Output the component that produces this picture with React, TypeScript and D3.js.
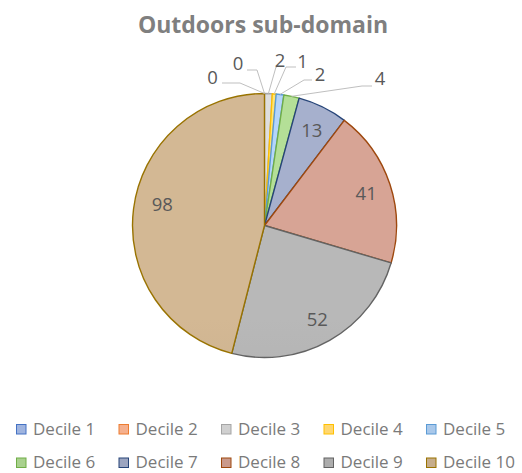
import React from "react";
import * as d3 from "d3";

const categories = ["Decile 1", "Decile 2", "Decile 3", "Decile 4", "Decile 5", "Decile 6", "Decile 7", "Decile 8", "Decile 9", "Decile 10"];
const values = [0, 0, 2, 1, 2, 4, 13, 41, 52, 98];
const strokeColors = ["#4472C4", "#ED7D31", "#A5A5A5", "#FFC000", "#5B9BD5", "#70AD47", "#264478", "#9E480E", "#636363", "#997300"];
const fillColors = ["#9fb4df", "#f5b08e", "#d0d0d0", "#ffd770", "#a9c8ea", "#a9d18e", "#9ca5c0", "#ca9a8c", "#adadad", "#c6ad8b"];
const title = "Outdoors sub-domain";

// layout for small (outside) labels: text centre and elbow of the leader line
const outsideLayout: Record<number, { tx: number; ty: number; sx: number; ex: number; ey: number }> = {
  0: { tx: 212.5, ty: 76.5, sx: 222, ex: 240, ey: 83 },
  1: { tx: 238, ty: 62.5, sx: 247, ex: 257, ey: 70 },
  2: { tx: 280, ty: 59, sx: 277, ex: 276, ey: 67 },
  3: { tx: 302.5, ty: 60, sx: 296, ex: 286, ey: 67 },
  4: { tx: 320, ty: 73, sx: 312, ex: 304, ey: 80 },
  5: { tx: 380, ty: 77.5, sx: 372, ex: 362, ey: 86 },
};
const insideNudge: Record<number, [number, number]> = { 9: [4, -9] };

const W = 522, H = 473;
const cx = 264.5, cy = 225.5, R = 132;
const font = "'Open Sans', sans-serif";

export default function App() {
  const pie = d3.pie<number>().sort(null).value((d) => d)(values);
  const arc = d3.arc<d3.PieArcDatum<number>>().innerRadius(0).outerRadius(R);
  const labelArc = d3.arc<d3.PieArcDatum<number>>().innerRadius(107).outerRadius(107);

  const legendX = d3.scaleLinear().domain([0, 4]).range([16, 426]);
  const legendY = [424, 457.5];

  return (
    <svg width={W} height={H} style={{ position: "absolute", left: 0, top: 0, background: "#fff" }}>
      <defs>
        {fillColors.map((c, i) => (
          <linearGradient key={i} id={"g" + i} gradientUnits="userSpaceOnUse" x1={0} y1={cy - R} x2={0} y2={cy + R}>
            <stop offset="0" stopColor={d3.rgb(c).brighter(0.18).formatHex()} />
            <stop offset="1" stopColor={d3.rgb(c).darker(0.12).formatHex()} />
          </linearGradient>
        ))}
      </defs>
      <text x={263} y={33} textAnchor="middle" fontFamily={font} fontWeight={700} fontSize={23} fill="#7f7f7f">
        {title}
      </text>
      <g transform={`translate(${cx},${cy})`}>
        {pie.map((p, i) =>
          p.value > 0 ? (
            <path key={i} d={arc(p) || ""} fill={`url(#g${i})`} stroke={strokeColors[i]} strokeWidth={1.4} strokeLinejoin="round" />
          ) : null
        )}
      </g>
      {pie.map((p, i) => {
        const L = outsideLayout[i];
        if (L) {
          const mid = (p.startAngle + p.endAngle) / 2;
          const px = cx + R * Math.sin(mid);
          const py = cy - R * Math.cos(mid);
          return (
            <g key={"l" + i}>
              <polyline points={`${L.sx},${L.ey} ${L.ex},${L.ey} ${px},${py}`} fill="none" stroke="#bfbfbf" strokeWidth={1} />
              <text x={L.tx} y={L.ty} textAnchor="middle" dominantBaseline="central" fontFamily={font} fontSize={18.5} fill="#595959">
                {values[i]}
              </text>
            </g>
          );
        }
        const [lx, ly] = labelArc.centroid(p);
        const n = insideNudge[i] || [0, 0];
        return (
          <text key={"l" + i} x={cx + lx + n[0]} y={cy + ly + n[1]} textAnchor="middle" dominantBaseline="central" fontFamily={font} fontSize={18.5} fill="#595959">
            {values[i]}
          </text>
        );
      })}
      {categories.map((c, i) => {
        const col = i % 5;
        const row = Math.floor(i / 5);
        const x = legendX(col);
        const y = legendY[row];
        return (
          <g key={"lg" + i}>
            <rect x={x + 0.5} y={y + 0.5} width={9.5} height={9.5} fill={fillColors[i]} stroke={strokeColors[i]} strokeWidth={1} />
            <text x={x + 17} y={y + 10.5} fontFamily={font} fontSize={17} fill="#7a7a7a">
              {c}
            </text>
          </g>
        );
      })}
    </svg>
  );
}
